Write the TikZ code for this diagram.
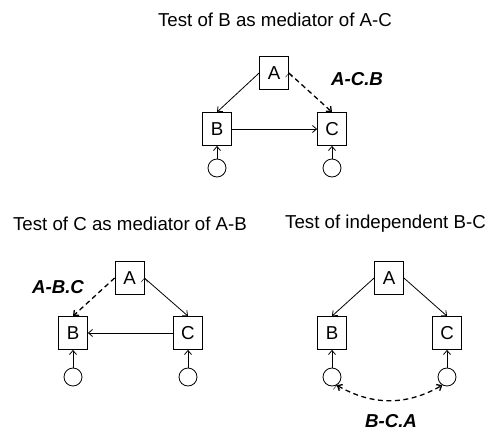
\documentclass[tikz,border=0pt]{standalone}
\usepackage{fontspec}
\setmainfont{Liberation Sans}
\usetikzlibrary{positioning, arrows.meta}
\tikzset{->,>={Straight Barb[length=4pt,width=7pt]},
every node/.style={font=\fontsize{18.7}{22}\selectfont},
var/.style={draw, line width=0.8pt, minimum width=29pt, minimum height=33pt, inner sep=0pt},
err/.style={draw, circle, line width=0.8pt, minimum size=18pt, inner sep=0pt},
path/.style={line width=0.8pt},
partial/.style={line width=1.3pt, dash pattern=on 5pt off 3.5pt},
tag/.style={font=\fontsize{18.7}{22}\selectfont\bfseries\itshape},
}

\begin{document}
\begin{tikzpicture}[x=1pt, y=-1pt]
    \useasboundingbox (0,0) rectangle (493,437);
    % B as mediator of A-C
    \node (t1) at (275,20) {Test of B as mediator of A-C};
    \node[var] (a1) at (274,73) {A};
    \node[var] (b1) at (217,129) {B};
    \node[var] (c1) at (332,129) {C};
    \node[err] (eb1) at (217,168) {};
    \node[err] (ec1) at (332,168) {};
    \node[tag] (p1) at (357,79) {A-C.B};
    \draw
    (a1.west) edge[path] (b1.north)
    (a1.east) edge[partial] (c1.north)
    (b1) edge[path] (c1)
    (eb1) edge[path] (b1)
    (ec1) edge[path] (c1)
    ;
    % C as mediator of A-B
    \node (t2) at (130,224) {Test of C as mediator of A-B};
    \node[var] (a2) at (129.5,278) {A};
    \node[var] (b2) at (73,333) {B};
    \node[var] (c2) at (188,333) {C};
    \node[err] (eb2) at (73,377) {};
    \node[err] (ec2) at (188,377) {};
    \node[tag] (p2) at (58,287) {A-B.C};
    \draw
    (a2.west) edge[partial] (b2.north)
    (a2.east) edge[path] (c2.north)
    (c2) edge[path] (b2)
    (eb2) edge[path] (b2)
    (ec2) edge[path] (c2)
    ;
    % independent B-C
    \node (t3) at (385.5,224) {Test of independent B-C};
    \node[var] (a3) at (389,278) {A};
    \node[var] (b3) at (332,333) {B};
    \node[var] (c3) at (447,333) {C};
    \node[err] (eb3) at (332,377) {};
    \node[err] (ec3) at (447,377) {};
    \node[tag] (p3) at (391,421) {B-C.A};
    \draw
    (a3.west) edge[path] (b3.north)
    (a3.east) edge[path] (c3.north)
    (eb3) edge[path] (b3)
    (ec3) edge[path] (c3)
    (eb3.-60) edge[partial, <->, out=-30, in=-150] (ec3.-120)
    ;
\end{tikzpicture}
\end{document}
